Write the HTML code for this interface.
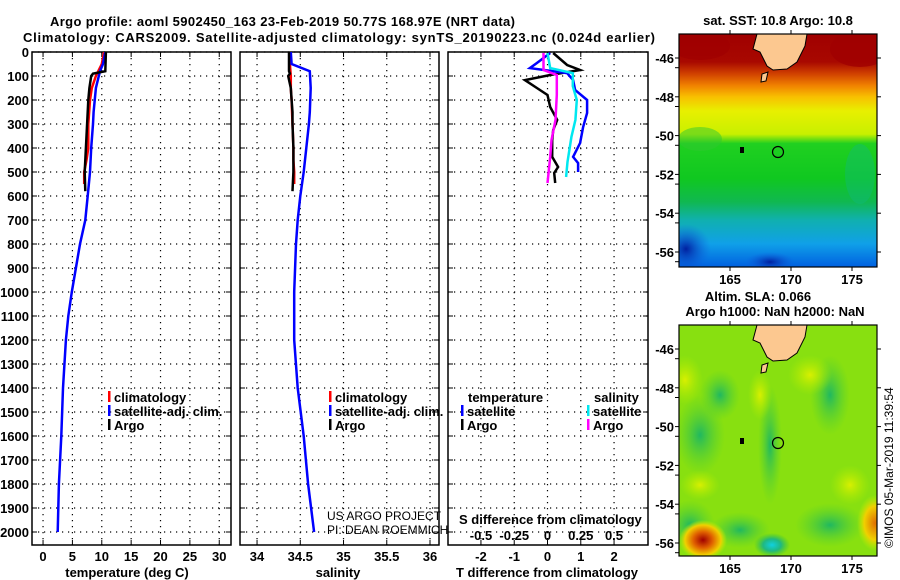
<!DOCTYPE html>
<html><head><meta charset="utf-8"><style>
html,body{margin:0;padding:0;background:#fff}
svg{display:block;font-family:"Liberation Sans",sans-serif}
.b{font-weight:bold;font-size:13px}
</style></head><body>
<svg id="s" width="900" height="580" viewBox="0 0 900 580" xmlns="http://www.w3.org/2000/svg">
<defs>
<linearGradient id="sst" x1="0" y1="0" x2="0" y2="1">
<stop offset="0" stop-color="#a00000"/><stop offset="0.12" stop-color="#a80800"/>
<stop offset="0.17" stop-color="#d04000"/><stop offset="0.22" stop-color="#f08000"/>
<stop offset="0.27" stop-color="#f8c000"/><stop offset="0.33" stop-color="#e8f000"/>
<stop offset="0.43" stop-color="#c8f000"/><stop offset="0.47" stop-color="#20d020"/>
<stop offset="0.62" stop-color="#10c820"/><stop offset="0.72" stop-color="#10b850"/>
<stop offset="0.8" stop-color="#10b0b0"/><stop offset="0.9" stop-color="#10a0e8"/>
<stop offset="1" stop-color="#0060e0"/></linearGradient>
<radialGradient id="red1"><stop offset="0" stop-color="#a00000"/><stop offset="0.4" stop-color="#e06000"/><stop offset="0.75" stop-color="#f0d000"/><stop offset="1" stop-color="#c0f000" stop-opacity="0"/></radialGradient>
<radialGradient id="org1"><stop offset="0" stop-color="#e07000"/><stop offset="0.6" stop-color="#f0d000"/><stop offset="1" stop-color="#c0f000" stop-opacity="0"/></radialGradient>
<radialGradient id="cy1"><stop offset="0" stop-color="#10d0e0"/><stop offset="0.5" stop-color="#20b880"/><stop offset="1" stop-color="#30c040" stop-opacity="0"/></radialGradient>
<radialGradient id="dg"><stop offset="0" stop-color="#20b860"/><stop offset="1" stop-color="#50d030" stop-opacity="0"/></radialGradient>
<radialGradient id="yl"><stop offset="0" stop-color="#d8f000"/><stop offset="1" stop-color="#b0ec00" stop-opacity="0"/></radialGradient>
<radialGradient id="db"><stop offset="0" stop-color="#0020a0"/><stop offset="1" stop-color="#1060e0" stop-opacity="0"/></radialGradient>
<clipPath id="c1"><rect x="32" y="52" width="199" height="493"/></clipPath>
<clipPath id="c2"><rect x="240" y="52" width="199" height="493"/></clipPath>
<clipPath id="c3"><rect x="448" y="52" width="200" height="493"/></clipPath>
<clipPath id="m1"><rect x="679" y="34" width="198" height="233"/></clipPath>
<clipPath id="m2"><rect x="679" y="325" width="198" height="231"/></clipPath>
</defs>
<text class="b" x="50" y="26" font-size="14" textLength="465">Argo profile: aoml 5902450_163 23-Feb-2019 50.77S 168.97E (NRT data)</text>
<text class="b" x="23" y="42" font-size="14" textLength="632">Climatology: CARS2009. Satellite-adjusted climatology: synTS_20190223.nc (0.024d earlier)</text>
<g id="plots"></g>
<g id="maps"></g>
</svg>
<script>
// ---- data ----
const depthTicks=[0,100,200,300,400,500,600,700,800,900,1000,1100,1200,1300,1400,1500,1600,1700,1800,1900,2000];
const tTicks=[0,5,10,15,20,25,30];
const sTicks=[34,34.5,35,35.5,36];
const dTTicks=[-2,-1,0,1,2];
const dSTicks=[-0.5,-0.25,0,0.25,0.5];
const dSLabels=["-0.5","-0.25","0","0.25","0.5"];
const argoDepth=[0,80,90,100,150,200,250,300,400,450,500,580];
const argoTemp=[10.7,10.6,8.5,8.2,7.9,7.7,7.6,7.5,7.3,7.2,7.1,7.2];
const argoSal=[34.37,34.37,34.38,34.36,34.39,34.4,34.41,34.41,34.42,34.42,34.42,34.41];
const climDepth=[0,50,100,150,200,300,400,450,500,550];
const climTemp=[10.4,10.0,9.0,8.3,8.0,7.7,7.7,7.4,7.0,7.0];
const climSal=[34.38,34.38,34.39,34.39,34.4,34.41,34.42,34.42,34.43,34.43];
const satDepth=[0,50,80,150,250,300,400,500,600,700,800,900,1000,1100,1200,1400,1600,1800,2000];
const satTemp=[10.6,10.2,9.7,9.0,8.6,8.5,8.2,8.0,7.6,7.2,6.3,5.6,4.9,4.3,3.9,3.4,3.1,2.7,2.5];
const satSal=[34.39,34.4,34.61,34.62,34.61,34.6,34.57,34.54,34.5,34.47,34.45,34.44,34.43,34.43,34.43,34.47,34.54,34.59,34.66];
const dTArgoDepth=[4,54,75,96,117,150,179,229,283,325,367,437,479,504,546];
const dTArgo=[0.17,0.59,0.98,0.08,-0.68,-0.32,0,0.08,0.29,0.17,0.14,0.14,0.32,0.2,0.23];
const dTSatDepth=[4,46,67,88,117,158,200,254,313,379,437,463,500];
const dTSat=[0.08,-0.32,-0.53,0.59,0.77,0.83,1.19,1.19,1.07,0.98,0.77,0.92,0.92];
const dSSatDepth=[4,67,88,142,200,283,354,458,521];
const dSSat=[0,0.02,0.19,0.19,0.22,0.21,0.18,0.15,0.14];
const dSArgoDepth=[4,75,96,179,283,367,437,546];
const dSArgo=[-0.03,-0.03,0.07,0.07,0.06,0.03,0.02,0.0];
const latTicks=[-46,-48,-50,-52,-54,-56];
const lonTicks=[165,170,175];

const NS='http://www.w3.org/2000/svg';
function mk(tag,attrs,parent){const e=document.createElementNS(NS,tag);for(const k in attrs)e.setAttribute(k,attrs[k]);parent.appendChild(e);return e;}
const P=document.getElementById('plots');
const yD=d=>52+d*0.24;
const panels=[
 {x0:32,x1:231,v0:-1.88,v1:32.0,ticks:tTicks,labels:tTicks.map(String),clip:'url(#c1)',name:'temperature'},
 {x0:240,x1:439,v0:33.803,v1:36.104,ticks:sTicks,labels:["34","34.5","35","35.5","36"],clip:'url(#c2)',name:'salinity'},
 {x0:448,x1:648,v0:-2.99,v1:3.02,ticks:dTTicks,labels:dTTicks.map(String),clip:'url(#c3)',name:'difference'}
];
panels.forEach((p,i)=>{
 p.f=v=>p.x0+(v-p.v0)/(p.v1-p.v0)*(p.x1-p.x0);
 const g=mk('g',{},P);
 
 
 depthTicks.forEach(d=>{const y=yD(d);
  const gl=mk('line',{x1:p.x0,x2:p.x1,y1:y,y2:y,stroke:'#000','stroke-width':1.2,'stroke-dasharray':'1.2 4.8'},g);
  
  
  mk('line',{x1:p.x0,x2:p.x0+5,y1:y,y2:y,stroke:'#000'},g);
  mk('line',{x1:p.x1-5,x2:p.x1,y1:y,y2:y,stroke:'#000'},g);
  if(i==0){const t=mk('text',{x:29,y:y+5,'text-anchor':'end',class:'b'},g);t.textContent=d;
   
   }
 });
 p.ticks.forEach((v,k)=>{const x=p.f(v);
  const gl=mk('line',{x1:x,x2:x,y1:52,y2:545,stroke:'#000','stroke-width':1.2,'stroke-dasharray':'1.2 4.8'},g);
  
  
  mk('line',{x1:x,x2:x,y1:52,y2:57,stroke:'#000'},g);
  mk('line',{x1:x,x2:x,y1:540,y2:545,stroke:'#000'},g);
  const t=mk('text',{x:x,y:561,'text-anchor':'middle',class:'b'},g);t.textContent=p.labels[k];
  
  
 });
 const r=mk('rect',{x:p.x0,y:52,width:p.x1-p.x0,height:493,fill:'none',stroke:'#000','stroke-width':1.5},g);
 
 
});
function line(p,vals,deps,col,name,scale){
 const f=scale||p.f;
 const pts=vals.map((v,i)=>f(v).toFixed(1)+','+yD(deps[i]).toFixed(1)).join(' ');
 const l=mk('polyline',{points:pts,fill:'none',stroke:col,'stroke-width':2.5,'clip-path':p.clip},P);
 
 
}
const [p1,p2,p3]=panels;
line(p1,climTemp,climDepth,'#ff0000','climatology-temp-line');
line(p1,satTemp,satDepth,'#0000ff','satellite-temp-line');
line(p1,argoTemp,argoDepth,'#000','argo-temp-line');
line(p2,climSal,climDepth,'#ff0000','climatology-sal-line');
line(p2,satSal,satDepth,'#0000ff','satellite-sal-line');
line(p2,argoSal,argoDepth,'#000','argo-sal-line');
const fS=v=>547.5+v*133;
line(p3,dTArgo,dTArgoDepth,'#000','argo-dT-line');
line(p3,dTSat,dTSatDepth,'#0000ff','satellite-dT-line');
line(p3,dSSat,dSSatDepth,'#00e8f0','satellite-dS-line',fS);
line(p3,dSArgo,dSArgoDepth,'#ff00ff','argo-dS-line',fS);
dSTicks.forEach((v,k)=>{const t=mk('text',{x:fS(v),y:540,'text-anchor':'middle',class:'b'},P);t.textContent=dSLabels[k];
 
 });
function txt(x,y,s,name,extra){const t=mk('text',Object.assign({x:x,y:y,class:'b'},extra||{}),P);t.textContent=s;
 
 return t;}
txt(127,577,'temperature (deg C)','x-axis-title-temperature',{'text-anchor':'middle'});
txt(338,577,'salinity','x-axis-title-salinity',{'text-anchor':'middle'});
txt(547,577,'T difference from climatology','x-axis-title-t-diff',{'text-anchor':'middle'});
txt(459,524,'S difference from climatology','s-diff-axis-title');
function leg(x,y,col,s,name){mk('rect',{x:x,y:y-11,width:2.5,height:11,fill:col},P);txt(x+6,y,s,name);}
leg(108,402,'#ff0000','climatology','legend-climatology');
leg(108,416,'#0000ff','satellite-adj. clim.','legend-satellite');
leg(108,430,'#000','Argo','legend-argo');
leg(329,402,'#ff0000','climatology','legend-climatology-2');
leg(329,416,'#0000ff','satellite-adj. clim.','legend-satellite-2');
leg(329,430,'#000','Argo','legend-argo-2');
txt(468,402,'temperature','legend-temperature-header');
leg(461,416,'#0000ff','satellite','legend-t-satellite');
leg(461,430,'#000','Argo','legend-t-argo');
txt(594,402,'salinity','legend-salinity-header');
leg(587,416,'#00e8f0','satellite','legend-s-satellite');
leg(587,430,'#ff00ff','Argo','legend-s-argo');
const c1=mk('text',{x:327,y:520,'font-size':12},P);c1.textContent='US ARGO PROJECT';


const c2=mk('text',{x:327,y:534,'font-size':12},P);c2.textContent='PI: DEAN ROEMMICH';



// ---- maps ----
const M=document.getElementById('maps');
const lonX=l=>730+(l-165)*12.2;
function map(y0,h,isSst){
 const g=mk('g',{},M);
 
 
 const latY=l=>y0+24+(-46-l)*19.4;
 const cl=isSst?'url(#m1)':'url(#m2)';
 const bg=mk('g',{'clip-path':cl},g);
 if(isSst){
  mk('rect',{x:679,y:y0,width:198,height:h,fill:'url(#sst)'},bg);
  mk('ellipse',{cx:686,cy:y0+215,rx:25,ry:25,fill:'url(#db)'},bg);
  mk('ellipse',{cx:770,cy:y0+228,rx:25,ry:10,fill:'url(#db)'},bg);
  mk('ellipse',{cx:700,cy:y0+105,rx:22,ry:12,fill:'#30c830','opacity':0.5},bg);
  mk('ellipse',{cx:860,cy:y0+140,rx:15,ry:30,fill:'#10b880','opacity':0.4},bg);
  mk('ellipse',{cx:860,cy:y0+15,rx:30,ry:18,fill:'#a00000','opacity':0.8},bg);
  mk('ellipse',{cx:700,cy:y0+12,rx:30,ry:14,fill:'#a00000','opacity':0.7},bg);
 } else {
  mk('rect',{x:679,y:y0,width:198,height:h,fill:'#88e010'},bg);
  [[700,110,25,40],[770,120,12,60],[690,200,25,25],[740,205,30,18],[830,200,35,22],[830,70,20,40],[720,70,20,25]].forEach(a=>mk('ellipse',{cx:a[0],cy:y0+a[1],rx:a[2],ry:a[3],fill:'url(#dg)'},bg));
  [[685,55,18,25],[700,160,20,15],[810,50,22,20],[850,160,20,20],[760,70,12,25]].forEach(a=>mk('ellipse',{cx:a[0],cy:y0+a[1],rx:a[2],ry:a[3],fill:'url(#yl)'},bg));
  mk('ellipse',{cx:703,cy:y0+215,rx:24,ry:20,fill:'url(#red1)'},bg);
  mk('ellipse',{cx:875,cy:y0+198,rx:18,ry:28,fill:'url(#org1)'},bg);
  mk('ellipse',{cx:772,cy:y0+220,rx:18,ry:12,fill:'url(#cy1)'},bg);
 }
 const land=mk('polygon',{points:[[757,0],[807,0],[805,12],[797,28],[787,35],[773,36],[767,32],[760,18],[753,15]].map(p=>p[0]+','+(y0+p[1])).join(' '),fill:'#fcc890',stroke:'#000','stroke-width':1,'clip-path':cl},g);
 
 
 mk('polygon',{points:`762,${y0+40} 768,${y0+38} 766,${y0+47} 761,${y0+48}`,fill:'#fcc890',stroke:'#000'},g);
 mk('rect',{x:740,y:y0+113,width:4,height:6,fill:'#000'},g);
 const ci=mk('circle',{cx:778,cy:y0+118,r:5.5,fill:'none',stroke:'#000','stroke-width':1.2},g);
 
 
 const fr=mk('rect',{x:679,y:y0,width:198,height:h,fill:'none',stroke:'#000','stroke-width':1.2},g);
 
 
 latTicks.forEach(l=>{const y=latY(l);
  mk('line',{x1:679,x2:675,y1:y,y2:y,stroke:'#000'},g);mk('line',{x1:877,x2:881,y1:y,y2:y,stroke:'#000'},g);
  const t=mk('text',{x:674,y:y+5,'text-anchor':'end',class:'b'},g);t.textContent=l;
  
  
  const y2=y+9.7;mk('line',{x1:679,x2:675,y1:y2,y2:y2,stroke:'#000'},g);
 });
 lonTicks.forEach(l=>{const x=lonX(l);
  mk('line',{x1:x,x2:x,y1:y0+h,y2:y0+h+4,stroke:'#000'},g);mk('line',{x1:x,x2:x,y1:y0,y2:y0-4,stroke:'#000'},g);
  const t=mk('text',{x:x,y:y0+h+17,'text-anchor':'middle',class:'b'},g);t.textContent=l;
  
  
 });
}
map(34,233,true);
map(325,231,false);
txt(778,25,'sat. SST: 10.8 Argo: 10.8','sst-map-title',{'text-anchor':'middle'});
txt(758,301,'Altim. SLA: 0.066','sla-map-title',{'text-anchor':'middle'});
txt(775,316,'Argo h1000: NaN h2000: NaN','sla-map-subtitle',{'text-anchor':'middle'});
const ts=mk('text',{x:0,y:0,'font-size':12,transform:'translate(893,548) rotate(-90)'},P);
ts.textContent='©IMOS 05-Mar-2019 11:39:54';


</script>
</body></html>
